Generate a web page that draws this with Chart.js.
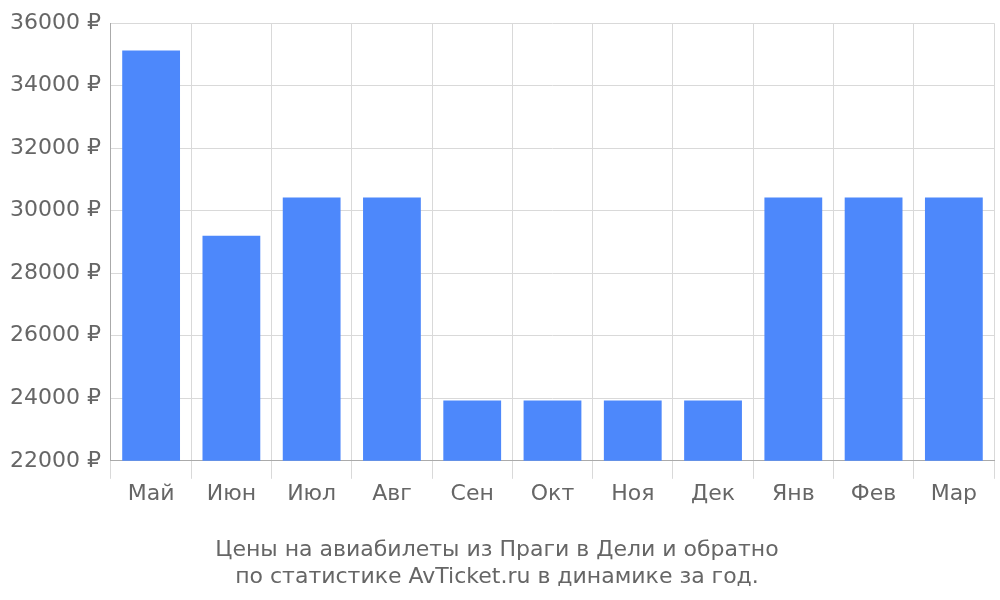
<!DOCTYPE html>
<html><head><meta charset="utf-8">
<script src="https://cdn.jsdelivr.net/npm/chart.js@4"></script>
<style>html,body{margin:0;padding:0;background:#fff}#w{width:1000px;height:600px}</style>
</head><body><div id="w"><canvas id="c"></canvas></div>
<script>
const categories = ["Май","Июн","Июл","Авг","Сен","Окт","Ноя","Дек","Янв","Фев","Мар"];
const prices = [35130,29200,30420,30420,23930,23930,23930,23930,30420,30420,30420];
const titleLines = ["Цены на авиабилеты из Праги в Дели и обратно","по статистике AvTicket.ru в динамике за год."];
Chart.defaults.font.family = "DejaVu Sans";
new Chart(document.getElementById('c'), {
  type: 'bar',
  data: { labels: categories, datasets: [{ data: prices, backgroundColor: '#4d88fb', barPercentage: 0.72, categoryPercentage: 1 }] },
  options: {
    responsive: true, maintainAspectRatio: false, animation: false,
    layout: { padding: { top: 4, right: 6, left: 0, bottom: 6 } },
    plugins: {
      legend: { display: false },
      tooltip: { enabled: false },
      title: { display: true, position: 'bottom', text: titleLines, color: '#666', font: { size: 22, weight: 'normal' }, padding: { top: 28, bottom: 4 }, lineHeight: 1.2 }
    },
    scales: {
      x: { grid: { color: '#d9d9d9', tickLength: 18, offset: true }, border: { color: '#aaa' }, ticks: { color: '#666', font: { size: 22 }, padding: 2 } },
      y: { min: 22000, max: 36000, grid: { color: '#d9d9d9', tickLength: 0 }, border: { color: '#aaa' },
           ticks: { stepSize: 2000, color: '#666', font: { size: 22 }, padding: 10, callback: v => v + ' ₽' } }
    }
  }
});
</script></body></html>
